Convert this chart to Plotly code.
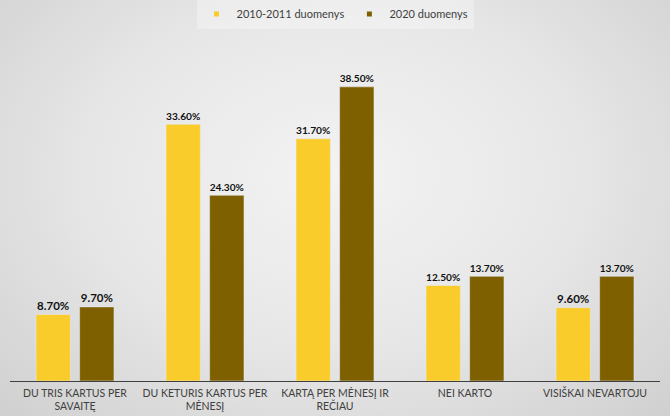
import plotly.graph_objects as go

categories = ["DU TRIS KARTUS PER<br>SAVAITĘ", "DU KETURIS KARTUS PER<br>MĖNESĮ",
              "KARTĄ PER MĖNESĮ IR<br>REČIAU", "NEI KARTO", "VISIŠKAI NEVARTOJU"]
series_2010 = [8.7, 33.6, 31.7, 12.5, 9.6]
series_2020 = [9.7, 24.3, 38.5, 13.7, 13.7]
names = ["2010-2011 duomenys", "2020 duomenys"]
colors = ["#FACC2B", "#7F6000"]

W, H = 670, 416
ml, mr, mt, mb = 10, 10, 40, 35
pw, ph = W - ml - mr, H - mt - mb

font_family = "Lato, 'Open Sans', sans-serif"

fig = go.Figure()
for vals, name, col in [(series_2010, names[0], colors[0]), (series_2020, names[1], colors[1])]:
    fig.add_bar(x=categories, y=vals, name=name, marker_color=col, showlegend=False,
                texttemplate="<b>%{y:.2f}%</b>", textposition="outside", cliponaxis=False,
                textfont=dict(size=11.5, color="#111111", family=font_family))
for name, col in zip(names, colors):
    fig.add_scatter(x=[None], y=[None], mode="markers", name=name,
                    marker=dict(symbol="square", size=5, color=col))

fig.update_layout(
    width=W, height=H,
    margin=dict(l=ml, r=mr, t=mt, b=mb, autoexpand=False),
    paper_bgcolor="rgba(0,0,0,0)", plot_bgcolor="rgba(0,0,0,0)",
    barmode="group", bargap=0.329, bargroupgap=0.213,
    font=dict(family=font_family, size=11, color="#404040"),
    showlegend=True,
    legend=dict(orientation="h", x=0.5, xanchor="center", y=1 + 26 / ph, yanchor="middle",
                bgcolor="rgba(255,255,255,0.3)", font=dict(size=11, color="#404040"),
                itemwidth=30, traceorder="normal"),
    xaxis=dict(showgrid=False, showline=True, linecolor="#404040", linewidth=1.3,
               ticks="", zeroline=False, ticklabelstandoff=2,
               tickfont=dict(size=10.5, color="#404040"), automargin=False),
    yaxis=dict(range=[0, ph / 7.64], visible=False, automargin=False),
)

post = ("var gd=document.getElementById('{plot_id}');"
        "var bg='radial-gradient(ellipse at 50% 42%, #f3f3f3 0%, #e7e7e7 50%, #d0d0d0 100%)';"
        "gd.style.background=bg;"
        "document.body.style.margin='0';document.body.style.background='#d8d8d8';")
fig.write_html("out.html", post_script=post)
